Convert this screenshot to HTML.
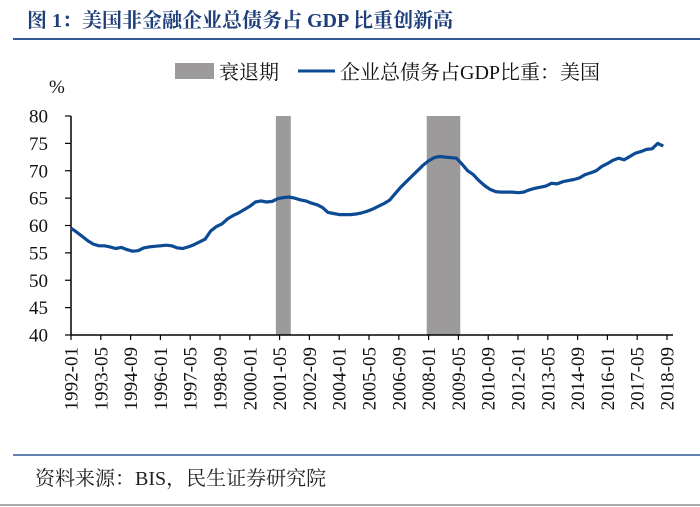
<!DOCTYPE html>
<html><head><meta charset="utf-8"><style>
body{margin:0;background:#fff;}
svg{display:block;font-family:"Liberation Serif","Noto Serif CJK SC",serif;}
</style></head><body>
<svg width="700" height="507" viewBox="0 0 700 507">
<text x="27" y="27" font-size="20" font-weight="bold" fill="#1F3F7A">图 1：美国非金融企业总债务占 GDP 比重创新高</text>
<line x1="13" y1="39" x2="700" y2="39" stroke="#2F5A96" stroke-width="2"/>
<g>
<rect x="175" y="63" width="39" height="16" fill="#9c9a9a"/>
<text x="219" y="79" font-size="20" fill="#111">衰退期</text>
<line x1="298" y1="71" x2="335" y2="71" stroke="#0D4A94" stroke-width="3"/>
<text x="340" y="79" font-size="20" fill="#111">企业总债务占GDP比重：美国</text>
</g>
<text x="49" y="93" font-size="19" fill="#111">%</text>
<g id="plot"></g>
<line x1="13" y1="455" x2="700" y2="455" stroke="#2F5A96" stroke-width="1.5"/>
<text x="35" y="485" font-size="20" fill="#222">资料来源：BIS，民生证券研究院</text>
<line x1="0" y1="505" x2="700" y2="505" stroke="#aaa" stroke-width="2"/>
</svg>
<script>
const yTicks=[40,45,50,55,60,65,70,75,80];
const xLabels=["1992-01","1993-05","1994-09","1996-01","1997-05","1998-09","2000-01","2001-05","2002-09","2004-01","2005-05","2006-09","2008-01","2009-05","2010-09","2012-01","2013-05","2014-09","2016-01","2017-05","2018-09"];
const recessions=[["2001-03","2001-11"],["2007-12","2009-06"]];
const startDate="1992-01";
const debtRatio=[
59.5,58.8,58.0,57.2, 56.6,56.3,56.3,56.1, 55.8,56.0,55.6,55.3, 55.4,55.9,56.1,56.2,
56.3,56.4,56.3,55.9, 55.8,56.1,56.5,57.0, 57.5,59.0,59.8,60.3, 61.2,61.8,62.3,62.9,
63.5,64.3,64.5,64.3, 64.4,64.9,65.1,65.2, 65.0,64.7,64.5,64.1, 63.8,63.3,62.4,62.2,
62.0,62.0,62.0,62.1, 62.3,62.6,63.0,63.5, 64.0,64.6,65.8,67.0, 68.0,69.0,70.0,71.0,
71.8,72.4,72.6,72.5, 72.4,72.3,71.2,70.0, 69.3,68.2,67.3,66.6, 66.2,66.1,66.1,66.1,
66.0,66.1,66.5,66.8, 67.0,67.2,67.7,67.6, 68.0,68.2,68.4,68.7, 69.3,69.6,70.0,70.8,
71.3,71.9,72.3,72.0, 72.6,73.2,73.5,73.9, 74.0,75.0,74.5];

const NS="http://www.w3.org/2000/svg";
const g=document.getElementById('plot');
const x0=71,pxPerMonth=1.8625,yTop=116,yBot=335,yMin=40,yMax=80;
function months(s){const [y,m]=s.split('-').map(Number);const [y0,m0]=startDate.split('-').map(Number);return (y-y0)*12+(m-m0);}
function xS(mo){return x0+mo*pxPerMonth;}
function yS(v){return yBot-(v-yMin)/(yMax-yMin)*(yBot-yTop);}
function mk(t,a){const e=document.createElementNS(NS,t);for(const k in a)e.setAttribute(k,a[k]);g.appendChild(e);return e;}
recessions.forEach(r=>{
 const x1=xS(months(r[0])),x2=xS(months(r[1]));
 const e=mk('rect',{x:x1,y:yTop,width:x2-x1,height:yBot-yTop,fill:'#9c9a9a'});
 
 
});
const ax=mk('line',{x1:x0,y1:yTop,x2:x0,y2:yBot,stroke:'#000','stroke-width':1.5});


const bx=mk('line',{x1:x0,y1:yBot,x2:673,y2:yBot,stroke:'#000','stroke-width':1.5});


yTicks.forEach(v=>{
 const y=yS(v);
 const t=mk('line',{x1:x0-6,y1:y,x2:x0,y2:y,stroke:'#000','stroke-width':1.2});
 
 
 const l=mk('text',{x:48,y:y+6.5,'text-anchor':'end','font-size':19,fill:'#111'});
 l.textContent=v;
 
 
});
xLabels.forEach(s=>{
 const x=xS(months(s));
 const t=mk('line',{x1:x,y1:yBot,x2:x,y2:yBot+5,stroke:'#000','stroke-width':1.2});
 
 
 const l=mk('text',{x:0,y:0,'text-anchor':'end','font-size':19,fill:'#111',transform:`translate(${x+6.5},${yBot+12}) rotate(-90)`});
 l.textContent=s;
 
 
});
const pts=debtRatio.map((v,i)=>xS(i*3).toFixed(1)+','+yS(v).toFixed(1)).join(' ');
const p=mk('polyline',{points:pts,fill:'none',stroke:'#0D4A94','stroke-width':3.2,'stroke-linejoin':'round'});


</script>
</body></html>
